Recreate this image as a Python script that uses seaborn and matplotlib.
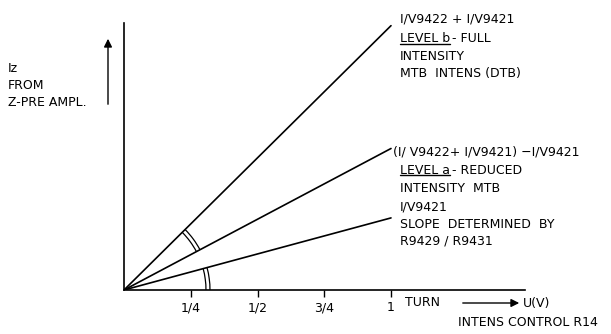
import numpy as np
import pandas as pd
import matplotlib
matplotlib.use("Agg")
import matplotlib.pyplot as plt
import seaborn as sns
from matplotlib.patches import Arc

# data: Iz output vs. turns of the intensity control
turns = [0.0, 1.0]
slope_full = 0.99      # LEVEL b - FULL
slope_reduced = 0.53   # LEVEL a - REDUCED
slope_min = 0.27       # I/V9421
series = ["full", "reduced", "min"]
slopes = [slope_full, slope_reduced, slope_min]
tick_pos = [0.25, 0.5, 0.75, 1.0]
tick_lbl = ["1/4", "1/2", "3/4", "1"]

rows = []
for s, k in zip(series, slopes):
    for t in turns:
        rows.append({"turn": t, "Iz": k * t, "line": s})
df = pd.DataFrame(rows)

sns.set_style("white")
plt.rcParams['font.family'] = ['DejaVu Sans']
plt.rcParams['text.color'] = 'black'
plt.rcParams['xtick.color'] = 'black'

W, H = 611, 334
fig = plt.figure(figsize=(W / 100, H / 100), dpi=100)
# origin at pixel (124, 290), 1 turn = 267 px on both axes
ax = fig.add_axes([124 / W, 44 / H, 400.5 / W, 267 / H])
sns.lineplot(data=df, x="turn", y="Iz", hue="line", palette=["black"] * 3,
             legend=False, ax=ax, linewidth=1.2)
ax.set_xlim(0, 1.5)
ax.set_ylim(0, 1.0)
ax.set_xlabel("")
ax.set_ylabel("")
ax.set_yticks([])
ax.set_xticks(tick_pos)
ax.set_xticklabels(tick_lbl, fontsize=9, color="black")
ax.tick_params(axis="x", direction="out", length=5, width=1, pad=3, bottom=True)
for sp in ["top", "right"]:
    ax.spines[sp].set_visible(False)
for sp in ["left", "bottom"]:
    ax.spines[sp].set_color("black")
    ax.spines[sp].set_linewidth(1.2)
ax.set_facecolor("none")

# angle arcs
a_full = np.degrees(np.arctan(slope_full))
a_red = np.degrees(np.arctan(slope_reduced))
a_min = np.degrees(np.arctan(slope_min))
for r in [0.307, 0.322]:
    ax.add_patch(Arc((0, 0), 2 * r, 2 * r, theta1=a_red, theta2=a_full, color="black", lw=0.9))
    ax.add_patch(Arc((0, 0), 2 * r, 2 * r, theta1=0, theta2=a_min, color="black", lw=0.9))


def px(x, y):
    return x / W, 1 - y / H


fs = 9
def txt(x, y, s, **kw):
    return fig.text(*px(x, y), s, fontsize=fs, va="center", ha="left", color="black", **kw)

# left label and arrow
txt(8, 68, "Iz")
txt(8, 86, "FROM")
txt(8, 102, "Z-PRE AMPL.")
ax.annotate("", xy=px(108, 36), xytext=px(108, 107), xycoords="figure fraction",
            textcoords="figure fraction",
            arrowprops=dict(arrowstyle="-|>", color="black", lw=1, mutation_scale=12))

# x-axis extras
txt(405, 303, "TURN")
ax.annotate("", xy=px(522, 303), xytext=px(460, 303), xycoords="figure fraction",
            textcoords="figure fraction",
            arrowprops=dict(arrowstyle="-|>", color="black", lw=1, mutation_scale=12))
txt(523, 303, "U(V)")
txt(458, 323, "INTENS CONTROL R14")

# right annotations
fig.canvas.draw()
renderer = fig.canvas.get_renderer()


def level(x, y, head, tail):
    t = txt(x, y, head)
    bb = t.get_window_extent(renderer)
    x0, x1 = bb.x0, bb.x1
    yl = bb.y0 + 1.5
    fig.add_artist(plt.Line2D([x0 / W, x1 / W], [yl / H, yl / H], color="black", lw=1))
    txt(x1 + 2, y, tail)


txt(400, 19, "I/V9422 + I/V9421")
level(400, 39, "LEVEL b", "- FULL")
txt(400, 57, "INTENSITY")
txt(400, 73, "MTB  INTENS (DTB)")

txt(393, 152, "(I/ V9422+ I/V9421) \u2212I/V9421")
level(400, 170, "LEVEL a", "- REDUCED")
txt(400, 188, "INTENSITY  MTB")
txt(400, 207, "I/V9421")
txt(400, 224, "SLOPE  DETERMINED  BY")
txt(400, 241, "R9429 / R9431")

fig.savefig("out.png", dpi=100)
